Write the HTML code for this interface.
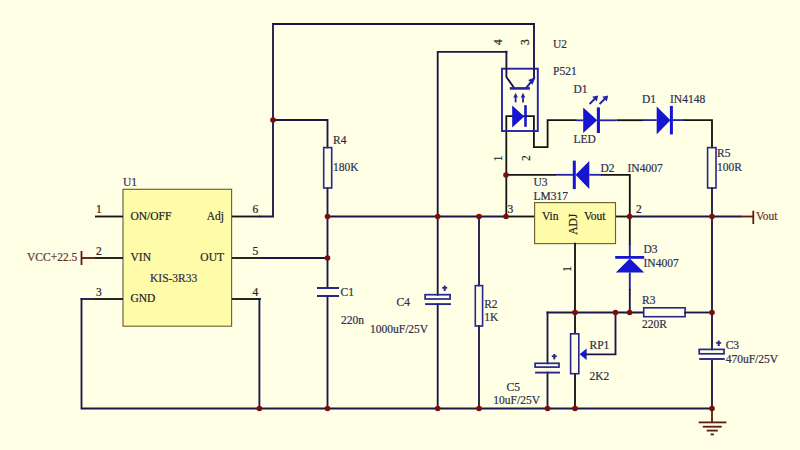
<!DOCTYPE html>
<html><head><meta charset="utf-8"><style>
html,body{margin:0;padding:0;background:#FFFFE6;width:800px;height:450px;overflow:hidden;}
svg{display:block;}
text{font-family:"Liberation Serif",serif;}
.tx{will-change:transform;}
</style></head><body>
<svg width="800" height="450" viewBox="0 0 800 450">
<rect x="0" y="0" width="800" height="450" fill="#FFFFE6"/>
<rect x="123" y="189.3" width="108.6" height="136.89999999999998" stroke="#6E6038" stroke-width="1.15" fill="#FFFCA9"/>
<line x1="95" y1="216.5" x2="123" y2="216.5" stroke="#141414" stroke-width="1.85"/>
<line x1="232" y1="216.5" x2="260" y2="216.5" stroke="#141414" stroke-width="1.85"/>
<line x1="95" y1="258" x2="123" y2="258" stroke="#141414" stroke-width="1.85"/>
<line x1="232" y1="258" x2="260" y2="258" stroke="#141414" stroke-width="1.85"/>
<line x1="95" y1="299" x2="123" y2="299" stroke="#141414" stroke-width="1.85"/>
<line x1="232" y1="299" x2="260" y2="299" stroke="#141414" stroke-width="1.85"/>
<line x1="81.5" y1="258" x2="95" y2="258" stroke="#5E1A12" stroke-width="1.85"/>
<line x1="81.5" y1="251" x2="81.5" y2="265" stroke="#5E1A12" stroke-width="1.8"/>
<path d="M81.5,299 H95" stroke="#181848" stroke-width="1.85" fill="none" stroke-linejoin="miter" stroke-linecap="square"/>
<path d="M81.5,299 V408.5 H712" stroke="#181848" stroke-width="1.85" fill="none" stroke-linejoin="miter" stroke-linecap="square"/>
<path d="M260,216.5 H273 V24 H534" stroke="#181848" stroke-width="1.85" fill="none" stroke-linejoin="miter" stroke-linecap="square"/>
<path d="M273,120 H327.5 V147.3" stroke="#181848" stroke-width="1.85" fill="none" stroke-linejoin="miter" stroke-linecap="square"/>
<path d="M327.5,188.5 V288" stroke="#181848" stroke-width="1.85" fill="none" stroke-linejoin="miter" stroke-linecap="square"/>
<path d="M327.5,296 V408.5" stroke="#181848" stroke-width="1.85" fill="none" stroke-linejoin="miter" stroke-linecap="square"/>
<path d="M260,258 H327.5" stroke="#181848" stroke-width="1.85" fill="none" stroke-linejoin="miter" stroke-linecap="square"/>
<path d="M260,299 H259.4 V408.5" stroke="#181848" stroke-width="1.85" fill="none" stroke-linejoin="miter" stroke-linecap="square"/>
<path d="M327.5,216.5 H506" stroke="#181848" stroke-width="1.85" fill="none" stroke-linejoin="miter" stroke-linecap="square"/>
<line x1="506" y1="216.5" x2="534" y2="216.5" stroke="#141414" stroke-width="1.85"/>
<rect x="323.7" y="147.6" width="8.0" height="40.400000000000006" stroke="#26268C" stroke-width="1.6" fill="none"/>
<line x1="317" y1="288" x2="339" y2="288" stroke="#26268C" stroke-width="2"/>
<line x1="317" y1="296" x2="339" y2="296" stroke="#26268C" stroke-width="2"/>
<path d="M437.7,408.5 V304.1" stroke="#181848" stroke-width="1.85" fill="none" stroke-linejoin="miter" stroke-linecap="square"/>
<path d="M437.7,294.7 V51.8 H506.4" stroke="#181848" stroke-width="1.85" fill="none" stroke-linejoin="miter" stroke-linecap="square"/>
<rect x="425.1" y="294.7" width="25.0" height="4.300000000000011" stroke="#26268C" stroke-width="1.7" fill="none"/>
<line x1="425.1" y1="304.1" x2="450.9" y2="304.1" stroke="#26268C" stroke-width="1.9"/>
<line x1="442.2" y1="287.8" x2="447.2" y2="287.8" stroke="#26268C" stroke-width="1.7"/>
<line x1="444.7" y1="285.6" x2="444.7" y2="291" stroke="#26268C" stroke-width="2"/>
<path d="M479,216.5 V285.3" stroke="#181848" stroke-width="1.85" fill="none" stroke-linejoin="miter" stroke-linecap="square"/>
<path d="M479,326 V408.5" stroke="#181848" stroke-width="1.85" fill="none" stroke-linejoin="miter" stroke-linecap="square"/>
<rect x="475.3" y="285.6" width="7.300000000000011" height="40.39999999999998" stroke="#26268C" stroke-width="1.6" fill="none"/>
<path d="M506.3,216.5 V116.2 H533.9 V147.2 H547.6 V120.2 H575.6" stroke="#141414" stroke-width="1.8" fill="none" stroke-linejoin="miter" stroke-linecap="square"/>
<rect x="502" y="68.7" width="35.799999999999955" height="62.3" stroke="#2323A6" stroke-width="1.9" fill="none"/>
<path d="M506.4,51.8 V77 L513.5,87" stroke="#181848" stroke-width="1.9" fill="none" stroke-linejoin="miter" stroke-linecap="square"/>
<path d="M534,24 V78.5" stroke="#181848" stroke-width="1.9" fill="none" stroke-linejoin="miter" stroke-linecap="square"/>
<path d="M526.5,87.5 L531.5,81.5" stroke="#2323A6" stroke-width="2" fill="none" stroke-linejoin="miter" stroke-linecap="square"/>
<polygon points="535.5,77 528.2,80 532.5,84.8" fill="#2323A6"/>
<line x1="509.8" y1="88.4" x2="529.9" y2="88.4" stroke="#2323A6" stroke-width="2.6"/>
<line x1="515.6" y1="96" x2="515.6" y2="102.4" stroke="#2323A6" stroke-width="1.8"/>
<polygon points="513.3000000000001,97.5 517.9,97.5 515.6,92.8" fill="#2323A6"/>
<line x1="523" y1="96" x2="523" y2="102.4" stroke="#2323A6" stroke-width="1.8"/>
<polygon points="520.7,97.5 525.3,97.5 523,92.8" fill="#2323A6"/>
<polygon points="512.2,105.6 512.2,127.6 524.3,116.6" fill="#1616D0"/>
<line x1="525.5" y1="105.2" x2="525.5" y2="126.8" stroke="#1616D0" stroke-width="2.6"/>
<line x1="575.6" y1="120.3" x2="583.2" y2="120.3" stroke="#2323A6" stroke-width="1.8"/>
<polygon points="583.2,107.6 583.2,132.9 597.2,120.3" fill="#1616D0"/>
<line x1="598.4" y1="107.4" x2="598.4" y2="133" stroke="#1616D0" stroke-width="3.1"/>
<line x1="599.6" y1="120.3" x2="616.5" y2="120.3" stroke="#2323A6" stroke-width="1.8"/>
<line x1="589.6" y1="104" x2="595.1" y2="98.5" stroke="#2323A6" stroke-width="1.8"/>
<polygon points="598.2,95.4 592.2,96.8 596.8000000000001,101.4" fill="#2323A6"/>
<line x1="599.6" y1="104" x2="605.1" y2="98.5" stroke="#2323A6" stroke-width="1.8"/>
<polygon points="608.2,95.4 602.2,96.8 606.8000000000001,101.4" fill="#2323A6"/>
<line x1="616.5" y1="120.2" x2="643" y2="120.2" stroke="#141414" stroke-width="1.85"/>
<line x1="643" y1="120.1" x2="656.7" y2="120.1" stroke="#2323A6" stroke-width="1.8"/>
<polygon points="656.7,106.5 656.7,134.2 670.5,120.2" fill="#1616D0"/>
<line x1="671.4" y1="105.9" x2="671.4" y2="134.4" stroke="#1616D0" stroke-width="3"/>
<line x1="672.8" y1="120.1" x2="685" y2="120.1" stroke="#2323A6" stroke-width="1.8"/>
<path d="M685,120.1 H712 V147.3" stroke="#141414" stroke-width="1.85" fill="none" stroke-linejoin="miter" stroke-linecap="square"/>
<rect x="707.6" y="147.6" width="8.399999999999977" height="40.400000000000006" stroke="#26268C" stroke-width="1.6" fill="none"/>
<path d="M712,188.4 V349.4" stroke="#181848" stroke-width="1.85" fill="none" stroke-linejoin="miter" stroke-linecap="square"/>
<path d="M712,359 V408.5" stroke="#181848" stroke-width="1.85" fill="none" stroke-linejoin="miter" stroke-linecap="square"/>
<path d="M629.6,216.5 H740" stroke="#181848" stroke-width="1.85" fill="none" stroke-linejoin="miter" stroke-linecap="square"/>
<line x1="740" y1="216.5" x2="753.3" y2="216.5" stroke="#5E1A12" stroke-width="1.85"/>
<line x1="753.3" y1="210.7" x2="753.3" y2="224" stroke="#5E1A12" stroke-width="1.8"/>
<line x1="616" y1="216.5" x2="629.6" y2="216.5" stroke="#141414" stroke-width="1.85"/>
<line x1="506" y1="174.8" x2="556" y2="174.8" stroke="#141414" stroke-width="1.85"/>
<line x1="556" y1="174.8" x2="573" y2="174.8" stroke="#2323A6" stroke-width="1.8"/>
<line x1="574.3" y1="160.6" x2="574.3" y2="189.1" stroke="#1616D0" stroke-width="3"/>
<polygon points="575.5,174.8 589.3,161.1 589.3,189.1" fill="#1616D0"/>
<line x1="589.3" y1="174.8" x2="602" y2="174.8" stroke="#2323A6" stroke-width="1.8"/>
<path d="M602,174.8 H629.8 V244" stroke="#141414" stroke-width="1.85" fill="none" stroke-linejoin="miter" stroke-linecap="square"/>
<rect x="534.6" y="202.6" width="80.89999999999998" height="41.0" stroke="#6E6038" stroke-width="1.15" fill="#FFFCA9"/>
<line x1="629.8" y1="244" x2="629.8" y2="257" stroke="#2323A6" stroke-width="1.9"/>
<line x1="615.2" y1="257.4" x2="644.2" y2="257.4" stroke="#1616D0" stroke-width="2.8"/>
<polygon points="629.8,258.6 615.8,272.4 644.2,272.4" fill="#1616D0"/>
<line x1="629.8" y1="272.4" x2="629.8" y2="290" stroke="#2323A6" stroke-width="1.9"/>
<path d="M629.8,290 V312.5" stroke="#181848" stroke-width="1.85" fill="none" stroke-linejoin="miter" stroke-linecap="square"/>
<path d="M575,243.7 V332.5" stroke="#141414" stroke-width="1.85" fill="none" stroke-linejoin="miter" stroke-linecap="square"/>
<path d="M575,374 V408.5" stroke="#141414" stroke-width="1.85" fill="none" stroke-linejoin="miter" stroke-linecap="square"/>
<path d="M547.5,312.5 H642.9" stroke="#181848" stroke-width="1.85" fill="none" stroke-linejoin="miter" stroke-linecap="square"/>
<rect x="643.7" y="307.8" width="41.39999999999998" height="8.899999999999977" stroke="#26268C" stroke-width="1.6" fill="none"/>
<path d="M685.1,312.5 H712" stroke="#181848" stroke-width="1.85" fill="none" stroke-linejoin="miter" stroke-linecap="square"/>
<rect x="570.6" y="333.8" width="8.199999999999932" height="39.89999999999998" stroke="#26268C" stroke-width="1.6" fill="none"/>
<polygon points="579.6,354.3 586.6,348.6 586.6,360" fill="#1616D0"/>
<path d="M586.6,354.3 H615.5 V312.5" stroke="#181848" stroke-width="1.85" fill="none" stroke-linejoin="miter" stroke-linecap="square"/>
<path d="M547.5,312.5 V363.3" stroke="#181848" stroke-width="1.85" fill="none" stroke-linejoin="miter" stroke-linecap="square"/>
<path d="M547.5,372.6 V408.5" stroke="#181848" stroke-width="1.85" fill="none" stroke-linejoin="miter" stroke-linecap="square"/>
<rect x="535.1" y="363.3" width="23.899999999999977" height="3.8000000000000114" stroke="#26268C" stroke-width="1.7" fill="none"/>
<line x1="535.1" y1="372.6" x2="560" y2="372.6" stroke="#26268C" stroke-width="1.9"/>
<line x1="551.8" y1="356.3" x2="556.8" y2="356.3" stroke="#26268C" stroke-width="1.7"/>
<line x1="554.3" y1="354" x2="554.3" y2="359.4" stroke="#26268C" stroke-width="2"/>
<rect x="699.2" y="349.4" width="24.799999999999955" height="4.400000000000034" stroke="#26268C" stroke-width="1.7" fill="none"/>
<line x1="699.2" y1="359" x2="724.7" y2="359" stroke="#26268C" stroke-width="1.9"/>
<line x1="716.2" y1="342.9" x2="721.2" y2="342.9" stroke="#26268C" stroke-width="1.7"/>
<line x1="718.7" y1="340.6" x2="718.7" y2="346" stroke="#26268C" stroke-width="2"/>
<line x1="712" y1="408.5" x2="712" y2="422.4" stroke="#5E1A12" stroke-width="1.8"/>
<line x1="698.7" y1="422.4" x2="726.4" y2="422.4" stroke="#5E1A12" stroke-width="1.8"/>
<line x1="702.8" y1="426.7" x2="721.7" y2="426.7" stroke="#5E1A12" stroke-width="1.8"/>
<line x1="706.7" y1="430.6" x2="717.8" y2="430.6" stroke="#5E1A12" stroke-width="1.8"/>
<line x1="710.6" y1="434.4" x2="713.9" y2="434.4" stroke="#5E1A12" stroke-width="1.8"/>
<circle cx="273" cy="120" r="2.8" fill="#780F0F"/>
<circle cx="327.5" cy="216.5" r="2.8" fill="#780F0F"/>
<circle cx="327.5" cy="258" r="2.8" fill="#780F0F"/>
<circle cx="437.7" cy="216.5" r="2.8" fill="#780F0F"/>
<circle cx="479" cy="216.5" r="2.8" fill="#780F0F"/>
<circle cx="506" cy="216.5" r="2.8" fill="#780F0F"/>
<circle cx="506" cy="175" r="2.8" fill="#780F0F"/>
<circle cx="629.6" cy="216.5" r="2.8" fill="#780F0F"/>
<circle cx="712" cy="216.5" r="2.8" fill="#780F0F"/>
<circle cx="575" cy="312.5" r="2.8" fill="#780F0F"/>
<circle cx="615.5" cy="312.5" r="2.8" fill="#780F0F"/>
<circle cx="629.6" cy="312.5" r="2.8" fill="#780F0F"/>
<circle cx="712" cy="312.5" r="2.8" fill="#780F0F"/>
<circle cx="259.4" cy="408.5" r="2.8" fill="#780F0F"/>
<circle cx="327.5" cy="408.5" r="2.8" fill="#780F0F"/>
<circle cx="437.7" cy="408.5" r="2.8" fill="#780F0F"/>
<circle cx="479" cy="408.5" r="2.8" fill="#780F0F"/>
<circle cx="547.5" cy="408.5" r="2.8" fill="#780F0F"/>
<circle cx="575" cy="408.5" r="2.8" fill="#780F0F"/>
<circle cx="712" cy="408.5" r="2.8" fill="#780F0F"/>
<text x="123" y="185.5" fill="#2E2E4C" stroke="#2E2E4C" stroke-width="0.2" font-size="11.5" text-anchor="start">U1</text>
<text x="96" y="213.3" fill="#222222" stroke="#222222" stroke-width="0.2" font-size="11.5" text-anchor="start">1</text>
<text x="96" y="254.9" fill="#222222" stroke="#222222" stroke-width="0.2" font-size="11.5" text-anchor="start">2</text>
<text x="96" y="296" fill="#222222" stroke="#222222" stroke-width="0.2" font-size="11.5" text-anchor="start">3</text>
<text x="252.6" y="295.7" fill="#222222" stroke="#222222" stroke-width="0.2" font-size="11.5" text-anchor="start">4</text>
<text x="252.6" y="254.9" fill="#222222" stroke="#222222" stroke-width="0.2" font-size="11.5" text-anchor="start">5</text>
<text x="252.6" y="213.3" fill="#222222" stroke="#222222" stroke-width="0.2" font-size="11.5" text-anchor="start">6</text>
<text x="130.5" y="220" fill="#222222" stroke="#222222" stroke-width="0.2" font-size="11.5" text-anchor="start">ON/OFF</text>
<text x="224" y="220" fill="#222222" stroke="#222222" stroke-width="0.2" font-size="11.5" text-anchor="end">Adj</text>
<text x="130.5" y="261" fill="#222222" stroke="#222222" stroke-width="0.2" font-size="11.5" text-anchor="start">VIN</text>
<text x="224" y="261" fill="#222222" stroke="#222222" stroke-width="0.2" font-size="11.5" text-anchor="end">OUT</text>
<text x="150" y="282" fill="#2E2E4C" stroke="#2E2E4C" stroke-width="0.2" font-size="11.5" text-anchor="start">KIS-3R33</text>
<text x="130.5" y="302" fill="#222222" stroke="#222222" stroke-width="0.2" font-size="11.5" text-anchor="start">GND</text>
<text x="27" y="261" fill="#6A3228" stroke="#6A3228" stroke-width="0.2" font-size="11.5" text-anchor="start">VCC+22.5</text>
<text x="333" y="143.8" fill="#2E2E4C" stroke="#2E2E4C" stroke-width="0.2" font-size="11.5" text-anchor="start">R4</text>
<text x="333" y="171" fill="#2E2E4C" stroke="#2E2E4C" stroke-width="0.2" font-size="11.5" text-anchor="start">180K</text>
<text x="340.5" y="296" fill="#2E2E4C" stroke="#2E2E4C" stroke-width="0.2" font-size="11.5" text-anchor="start">C1</text>
<text x="341" y="323.7" fill="#2E2E4C" stroke="#2E2E4C" stroke-width="0.2" font-size="11.5" text-anchor="start">220n</text>
<text x="396.5" y="306.2" fill="#2E2E4C" stroke="#2E2E4C" stroke-width="0.2" font-size="11.5" text-anchor="start">C4</text>
<text x="370" y="332.5" fill="#2E2E4C" stroke="#2E2E4C" stroke-width="0.2" font-size="11.5" text-anchor="start">1000uF/25V</text>
<text x="484.2" y="308" fill="#2E2E4C" stroke="#2E2E4C" stroke-width="0.2" font-size="11.5" text-anchor="start">R2</text>
<text x="484.2" y="321.3" fill="#2E2E4C" stroke="#2E2E4C" stroke-width="0.2" font-size="11.5" text-anchor="start">1K</text>
<text x="553" y="47.7" fill="#2E2E4C" stroke="#2E2E4C" stroke-width="0.2" font-size="11.5" text-anchor="start">U2</text>
<text x="553" y="74.9" fill="#2E2E4C" stroke="#2E2E4C" stroke-width="0.2" font-size="11.5" text-anchor="start">P521</text>
<text x="502" y="42.2" fill="#222222" stroke="#222222" stroke-width="0.2" font-size="11.5" text-anchor="middle" transform="rotate(-90 502 42.2)">4</text>
<text x="529.5" y="42.2" fill="#222222" stroke="#222222" stroke-width="0.2" font-size="11.5" text-anchor="middle" transform="rotate(-90 529.5 42.2)">3</text>
<text x="502" y="158.3" fill="#222222" stroke="#222222" stroke-width="0.2" font-size="11.5" text-anchor="middle" transform="rotate(-90 502 158.3)">1</text>
<text x="529.5" y="158" fill="#222222" stroke="#222222" stroke-width="0.2" font-size="11.5" text-anchor="middle" transform="rotate(-90 529.5 158)">2</text>
<text x="573.5" y="92.8" fill="#2E2E4C" stroke="#2E2E4C" stroke-width="0.2" font-size="11.5" text-anchor="start">D1</text>
<text x="573.5" y="143.2" fill="#2E2E4C" stroke="#2E2E4C" stroke-width="0.2" font-size="11.5" text-anchor="start">LED</text>
<text x="642" y="103.1" fill="#2E2E4C" stroke="#2E2E4C" stroke-width="0.2" font-size="11.5" text-anchor="start">D1</text>
<text x="670" y="103" fill="#2E2E4C" stroke="#2E2E4C" stroke-width="0.2" font-size="11.5" text-anchor="start">IN4148</text>
<text x="717" y="157.3" fill="#2E2E4C" stroke="#2E2E4C" stroke-width="0.2" font-size="11.5" text-anchor="start">R5</text>
<text x="717" y="171.1" fill="#2E2E4C" stroke="#2E2E4C" stroke-width="0.2" font-size="11.5" text-anchor="start">100R</text>
<text x="756" y="220" fill="#6A3228" stroke="#6A3228" stroke-width="0.2" font-size="11.5" text-anchor="start">Vout</text>
<text x="533.5" y="185.6" fill="#2E2E4C" stroke="#2E2E4C" stroke-width="0.2" font-size="11.5" text-anchor="start">U3</text>
<text x="533.5" y="199.6" fill="#2E2E4C" stroke="#2E2E4C" stroke-width="0.2" font-size="11.5" text-anchor="start">LM317</text>
<text x="600.5" y="172.2" fill="#2E2E4C" stroke="#2E2E4C" stroke-width="0.2" font-size="11.5" text-anchor="start">D2</text>
<text x="627.5" y="172.2" fill="#2E2E4C" stroke="#2E2E4C" stroke-width="0.2" font-size="11.5" text-anchor="start">IN4007</text>
<text x="507.5" y="212.6" fill="#222222" stroke="#222222" stroke-width="0.2" font-size="11.5" text-anchor="start">3</text>
<text x="636" y="212.7" fill="#222222" stroke="#222222" stroke-width="0.2" font-size="11.5" text-anchor="start">2</text>
<text x="542" y="220" fill="#222222" stroke="#222222" stroke-width="0.2" font-size="11.5" text-anchor="start">Vin</text>
<text x="584" y="220" fill="#222222" stroke="#222222" stroke-width="0.2" font-size="11.5" text-anchor="start">Vout</text>
<text x="577.5" y="224.2" fill="#222222" stroke="#222222" stroke-width="0.2" font-size="11.5" text-anchor="middle" transform="rotate(-90 577.5 224.2)">ADJ</text>
<text x="571" y="268.9" fill="#222222" stroke="#222222" stroke-width="0.2" font-size="11.5" text-anchor="middle" transform="rotate(-90 571 268.9)">1</text>
<text x="643.5" y="253" fill="#2E2E4C" stroke="#2E2E4C" stroke-width="0.2" font-size="11.5" text-anchor="start">D3</text>
<text x="643.5" y="266.7" fill="#2E2E4C" stroke="#2E2E4C" stroke-width="0.2" font-size="11.5" text-anchor="start">IN4007</text>
<text x="642" y="304" fill="#2E2E4C" stroke="#2E2E4C" stroke-width="0.2" font-size="11.5" text-anchor="start">R3</text>
<text x="642" y="327.8" fill="#2E2E4C" stroke="#2E2E4C" stroke-width="0.2" font-size="11.5" text-anchor="start">220R</text>
<text x="589.5" y="349.3" fill="#2E2E4C" stroke="#2E2E4C" stroke-width="0.2" font-size="11.5" text-anchor="start">RP1</text>
<text x="589.5" y="379.5" fill="#2E2E4C" stroke="#2E2E4C" stroke-width="0.2" font-size="11.5" text-anchor="start">2K2</text>
<text x="506.5" y="390.6" fill="#2E2E4C" stroke="#2E2E4C" stroke-width="0.2" font-size="11.5" text-anchor="start">C5</text>
<text x="493.3" y="403.6" fill="#2E2E4C" stroke="#2E2E4C" stroke-width="0.2" font-size="11.5" text-anchor="start">10uF/25V</text>
<text x="725.7" y="349.3" fill="#2E2E4C" stroke="#2E2E4C" stroke-width="0.2" font-size="11.5" text-anchor="start">C3</text>
<text x="725.7" y="363.2" fill="#2E2E4C" stroke="#2E2E4C" stroke-width="0.2" font-size="11.5" text-anchor="start">470uF/25V</text>
</svg>
</body></html>
